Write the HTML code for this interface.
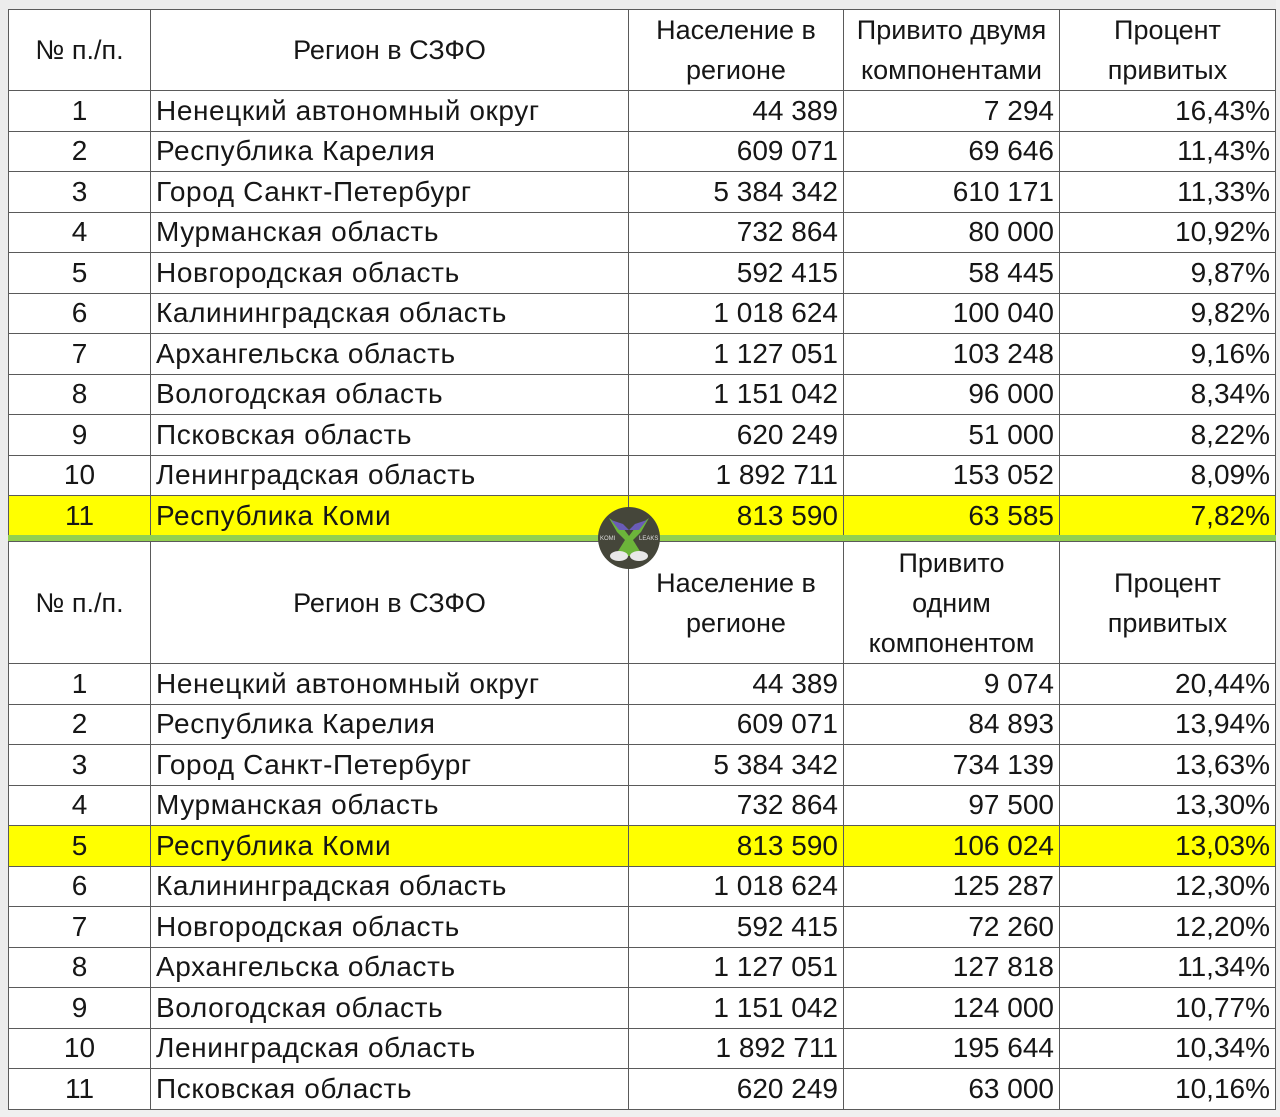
<!DOCTYPE html>
<html><head><meta charset="utf-8"><style>
body{margin:0;width:1280px;height:1117px;background:#fff;position:relative;overflow:hidden;font-family:"Liberation Sans","DejaVu Sans",sans-serif;color:#161616}
.g{position:absolute;left:8px;width:1268px;display:grid;grid-template-columns:141px 477px 214px 215px 215px;gap:1px;padding:1px;box-sizing:border-box;background:#5a5a5a;font-size:28px}
.g>div{background:#fff;display:flex;align-items:center;padding:0 5px;white-space:nowrap;overflow:hidden}
.c{justify-content:center}.r{justify-content:flex-end}
.n{letter-spacing:0.6px}
.h{justify-content:center;text-align:center;font-size:27px;line-height:40px}
.g>div.y{background:#ffff00}
</style></head><body>
<div style="position:absolute;left:0;top:0;width:1280px;height:9px;background:#ececec"></div>
<div style="position:absolute;left:0;top:0;width:8px;height:1117px;background:#ececec"></div>
<div style="position:absolute;left:0;top:1110px;width:1280px;height:7px;background:#f0f0f0"></div>
<div style="position:absolute;left:1276px;top:0;width:4px;height:1117px;background:#f0f0f0"></div>
<div class="g" style="top:9px;grid-template-rows:80px repeat(11,39.5px)">
<div class="h">№ п./п.</div><div class="h">Регион в СЗФО</div><div class="h">Население в<br>регионе</div><div class="h">Привито двумя<br>компонентами</div><div class="h">Процент<br>привитых</div>
<div class="c">1</div><div class="n">Ненецкий автономный округ</div><div class="r">44 389</div><div class="r">7 294</div><div class="r">16,43%</div>
<div class="c">2</div><div class="n">Республика Карелия</div><div class="r">609 071</div><div class="r">69 646</div><div class="r">11,43%</div>
<div class="c">3</div><div class="n">Город Санкт-Петербург</div><div class="r">5 384 342</div><div class="r">610 171</div><div class="r">11,33%</div>
<div class="c">4</div><div class="n">Мурманская область</div><div class="r">732 864</div><div class="r">80 000</div><div class="r">10,92%</div>
<div class="c">5</div><div class="n">Новгородская область</div><div class="r">592 415</div><div class="r">58 445</div><div class="r">9,87%</div>
<div class="c">6</div><div class="n">Калининградская область</div><div class="r">1 018 624</div><div class="r">100 040</div><div class="r">9,82%</div>
<div class="c">7</div><div class="n">Архангельска область</div><div class="r">1 127 051</div><div class="r">103 248</div><div class="r">9,16%</div>
<div class="c">8</div><div class="n">Вологодская область</div><div class="r">1 151 042</div><div class="r">96 000</div><div class="r">8,34%</div>
<div class="c">9</div><div class="n">Псковская область</div><div class="r">620 249</div><div class="r">51 000</div><div class="r">8,22%</div>
<div class="c">10</div><div class="n">Ленинградская область</div><div class="r">1 892 711</div><div class="r">153 052</div><div class="r">8,09%</div>
<div class="c y">11</div><div class="n y">Республика Коми</div><div class="r y">813 590</div><div class="r y">63 585</div><div class="r y">7,82%</div>
</div>
<div style="position:absolute;left:8px;top:535px;width:1268px;height:7px;background:#92d050"></div>
<div class="g" style="top:541px;grid-template-rows:121px repeat(11,39.5px)">
<div class="h">№ п./п.</div><div class="h">Регион в СЗФО</div><div class="h">Население в<br>регионе</div><div class="h">Привито<br>одним<br>компонентом</div><div class="h">Процент<br>привитых</div>
<div class="c">1</div><div class="n">Ненецкий автономный округ</div><div class="r">44 389</div><div class="r">9 074</div><div class="r">20,44%</div>
<div class="c">2</div><div class="n">Республика Карелия</div><div class="r">609 071</div><div class="r">84 893</div><div class="r">13,94%</div>
<div class="c">3</div><div class="n">Город Санкт-Петербург</div><div class="r">5 384 342</div><div class="r">734 139</div><div class="r">13,63%</div>
<div class="c">4</div><div class="n">Мурманская область</div><div class="r">732 864</div><div class="r">97 500</div><div class="r">13,30%</div>
<div class="c y">5</div><div class="n y">Республика Коми</div><div class="r y">813 590</div><div class="r y">106 024</div><div class="r y">13,03%</div>
<div class="c">6</div><div class="n">Калининградская область</div><div class="r">1 018 624</div><div class="r">125 287</div><div class="r">12,30%</div>
<div class="c">7</div><div class="n">Новгородская область</div><div class="r">592 415</div><div class="r">72 260</div><div class="r">12,20%</div>
<div class="c">8</div><div class="n">Архангельска область</div><div class="r">1 127 051</div><div class="r">127 818</div><div class="r">11,34%</div>
<div class="c">9</div><div class="n">Вологодская область</div><div class="r">1 151 042</div><div class="r">124 000</div><div class="r">10,77%</div>
<div class="c">10</div><div class="n">Ленинградская область</div><div class="r">1 892 711</div><div class="r">195 644</div><div class="r">10,34%</div>
<div class="c">11</div><div class="n">Псковская область</div><div class="r">620 249</div><div class="r">63 000</div><div class="r">10,16%</div>
</div>
<svg style="position:absolute;left:597px;top:506px" width="64" height="64" viewBox="0 0 64 64">
<circle cx="32" cy="32" r="31" fill="#45463a"/>
<path d="M12 12 L26 22 L32 30 L38 22 L52 12 L44 26 L36 34 L46 50 L18 50 L28 34 L20 26Z" fill="#6cb43a"/>
<path d="M14 14 L26 18 L32 24 L38 18 L50 14 L42 24 L22 24Z" fill="#6a5cb8"/>
<ellipse cx="22" cy="50" rx="9" ry="5" fill="#e8e8e8"/><ellipse cx="42" cy="50" rx="9" ry="5" fill="#e8e8e8"/>
<text x="3" y="34" font-size="6" fill="#ddd" font-family="Liberation Sans">KOMI</text>
<text x="42" y="34" font-size="6" fill="#ddd" font-family="Liberation Sans">LEAKS</text>
</svg>
</body></html>
